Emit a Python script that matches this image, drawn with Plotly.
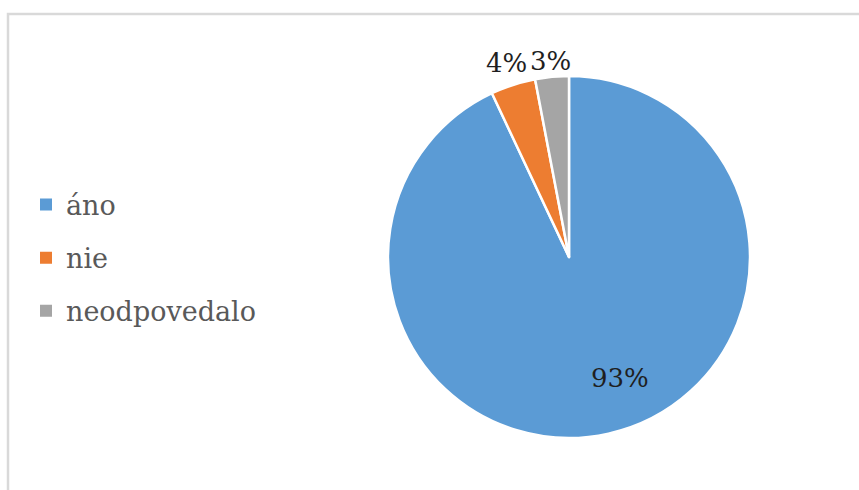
import math
import plotly.graph_objects as go

# Survey answers and their shares (%)
categories = ["áno", "nie", "neodpovedalo"]
shares = [93, 4, 3]
colors = ["#5B9BD5", "#ED7D31", "#A5A5A5"]

# Data-label placement: distance from centre (in radii) and angular nudge (deg)
label_radius = [0.725, 1.125, 1.09]
label_nudge = [-10.3, 0.0, 0.0]

W, H = 859, 490
FONT = "DejaVu Serif"

# Pie box in pixels (square), converted to paper fractions
px0, px1, py0, py1 = 388, 750, 76, 438
cx, cy, R = (px0 + px1) / 2, (py0 + py1) / 2, (px1 - px0) / 2

fig = go.Figure()

fig.add_trace(go.Pie(
    labels=categories,
    values=shares,
    sort=False,
    direction="clockwise",
    rotation=0,
    marker=dict(colors=colors, line=dict(color="white", width=2.5)),
    textinfo="none",
    automargin=False,
    showlegend=False,
    hoverinfo="label+percent",
    domain=dict(x=[px0 / W, px1 / W], y=[1 - py1 / H, 1 - py0 / H]),
))

# Percentage labels at the slice mid-angles (clockwise from 12 o'clock)
total = sum(shares)
annotations = []
cum = 0
for v, rf, nd in zip(shares, label_radius, label_nudge):
    mid = (cum + v / 2) / total * 360 + nd
    cum += v
    a = math.radians(mid)
    lx = cx + rf * R * math.sin(a)
    ly = cy - rf * R * math.cos(a)
    annotations.append(dict(
        x=lx / W, y=1 - ly / H, xref="paper", yref="paper",
        text=f"{v}%", showarrow=False,
        xanchor="center", yanchor="middle",
        font=dict(family=FONT, size=26, color="#1f1f1f"),
    ))

# Legend entries: one square marker per category, spaced apart by group gaps
for name, col in zip(categories, colors):
    fig.add_trace(go.Scatter(
        x=[None], y=[None], mode="markers", name=name,
        legendgroup=name,
        marker=dict(symbol="square", size=12, color=col),
        showlegend=True,
    ))

fig.update_layout(
    width=W, height=H,
    margin=dict(l=0, r=0, t=0, b=0),
    paper_bgcolor="white",
    plot_bgcolor="white",
    xaxis=dict(visible=False),
    yaxis=dict(visible=False),
    annotations=annotations,
    legend=dict(
        x=26 / W, xanchor="left",
        y=1 - 258 / H, yanchor="middle",
        font=dict(family=FONT, size=27, color="#595959"),
        tracegroupgap=15,
        itemsizing="trace",
        bgcolor="rgba(0,0,0,0)",
    ),
    shapes=[dict(
        type="rect", xref="paper", yref="paper",
        x0=8 / W, x1=1.05, y0=-0.05, y1=1 - 14 / H,
        line=dict(color="#D9D9D9", width=2.5),
        fillcolor="rgba(0,0,0,0)",
        layer="below",
    )],
)

fig.write_html("out.html")
